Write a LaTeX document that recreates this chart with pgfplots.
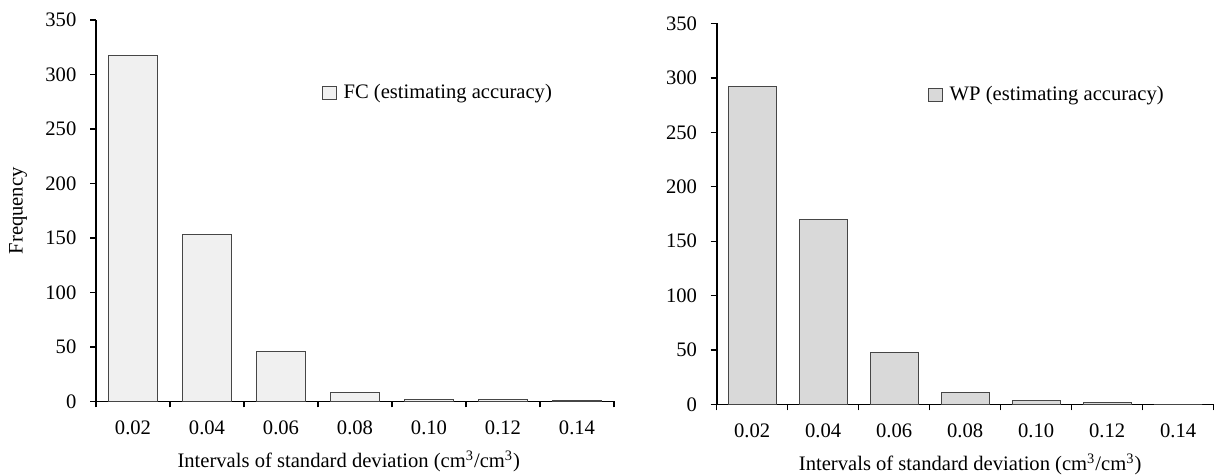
\documentclass[border=0pt]{standalone}
\usepackage{pgfplots}
\pgfplotsset{compat=1.18}
\usepackage{fontspec}
\setmainfont{Liberation Serif}
\definecolor{fcfill}{RGB}{240,240,240}
\definecolor{wpfill}{RGB}{217,217,217}
\definecolor{edge}{RGB}{70,70,70}
\pgfplotsset{
  histo/.style={
    scale only axis,
    anchor=south west,
    xmin=0, xmax=7, ymin=0, ymax=350,
    separate axis lines,
    axis x line*=bottom, axis y line*=left,
    axis line style={-, line width=0.9pt, black},
    xtick={0,1,2,3,4,5,6,7},
    x tick label as interval,
    xticklabels={0.02,0.04,0.06,0.08,0.10,0.12,0.14},
    ytick={0,50,100,150,200,250,300,350},
    tick align=outside,
    major tick length=3pt,
    tick style={line width=0.7pt, black},
    /pgf/number format/assume math mode=true,
    tick label style={font=\fontsize{10.3}{12}\selectfont},
    yticklabel style={xshift=-3.3pt},
    xticklabel style={yshift=-3.3pt},
    label style={font=\fontsize{10.3}{12}\selectfont},
    legend style={draw=none, fill=none, font=\fontsize{10.3}{12}\selectfont, inner sep=0pt, anchor=west},
    legend cell align=left,
  }
}
\begin{document}
\begin{tikzpicture}
\useasboundingbox (0,0) rectangle (610.5pt,237.5pt);
\begin{axis}[histo,
  at={(48pt,36.75pt)}, width=259pt, height=190.75pt,
  ylabel={Frequency},
  ylabel style={at={(axis description cs:-0.1506,0.5)}, anchor=center},
  xlabel={Intervals of standard deviation (cm\textsuperscript{3}/cm\textsuperscript{3})},
  xlabel style={at={(axis description cs:0.488,0)}, anchor=center, yshift=-29.8pt},
  legend style={at={(axis description cs:0.436,0.808)}},
  legend image code/.code={\draw[fill=fcfill, draw=edge, line width=0.5pt] (0pt,-3.35pt) rectangle (7pt,3.35pt); \path (8.2pt,0pt);},
]
\addplot[ybar, bar width=0.667, fill=fcfill, draw=edge, line width=0.5pt]
  coordinates {(0.5,317) (1.5,153) (2.5,46) (3.5,8) (4.5,2) (5.5,2) (6.5,1)};
\addlegendentry{FC (estimating accuracy)}
\end{axis}
\begin{axis}[histo,
  at={(358.35pt,35.25pt)}, width=248.5pt, height=190.5pt,
  xlabel={Intervals of standard deviation (cm\textsuperscript{3}/cm\textsuperscript{3})},
  xlabel style={at={(axis description cs:0.51,0)}, anchor=center, yshift=-29.8pt},
  legend style={at={(axis description cs:0.425,0.812)}},
  legend image code/.code={\draw[fill=wpfill, draw=edge, line width=0.5pt] (0pt,-3.35pt) rectangle (7pt,3.35pt); \path (8.2pt,0pt);},
]
\addplot[ybar, bar width=0.676, fill=wpfill, draw=edge, line width=0.5pt]
  coordinates {(0.5,292) (1.5,170) (2.5,48) (3.5,11) (4.5,4) (5.5,2) (6.5,0)};
\addlegendentry{WP (estimating accuracy)}
\end{axis}
\end{tikzpicture}
\end{document}
